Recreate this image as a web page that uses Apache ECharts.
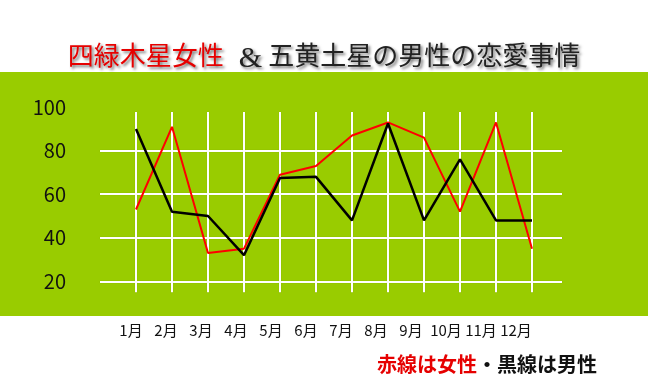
<!DOCTYPE html>
<html><head><meta charset="utf-8">
<script src="https://cdn.jsdelivr.net/npm/echarts@6/dist/echarts.min.js"></script>
<style>html,body{margin:0;padding:0;background:#fff}#c{width:648px;height:388px}</style>
</head><body><div id="c"></div>
<script>
const months = ['1月','2月','3月','4月','5月','6月','7月','8月','9月','10月','11月','12月'];
const yTicks = [20,40,60,80,100];
const women = [53,91,33,35,69,73,87,93,86,52,93,35];
const men = [90,52,50,32,67.5,68,48,92.5,48,76,48,48];

const chart = echarts.init(document.getElementById('c'), null, {renderer:'canvas'});
const shadow = {textShadowColor:'rgba(0,0,0,0.55)', textShadowBlur:3, textShadowOffsetX:2, textShadowOffsetY:2};
const white = {show:true, lineStyle:{color:'#ffffff', width:2, shadowColor:'rgba(0,0,0,0.25)', shadowBlur:1}};
chart.setOption({
  backgroundColor:'#ffffff',
  animation:false,
  graphic:[{type:'rect', z:-100, shape:{x:0,y:72,width:648,height:244}, style:{fill:'#99CC00'}}],
  title:[{
    left:'center', top:31,
    text:'{r|四緑木星女性}{a|&}{b|五黄土星の男性の恋愛事情}',
    textStyle:{fontWeight:'normal', rich:{
      r:Object.assign({color:'#e60000', fontSize:26, fontWeight:'normal', fontFamily:'Noto Sans CJK JP'}, shadow),
      a:Object.assign({color:'#222', fontSize:30, fontWeight:'normal', fontFamily:'Liberation Serif', padding:[8,6,0,15]}, shadow),
      b:Object.assign({color:'#222', fontSize:26, fontWeight:'normal', fontFamily:'Noto Sans CJK JP'}, shadow)
    }}
  },{
    left:372, top:349,
    text:'{r|赤線は女性}{b|・黒線は男性}',
    textStyle:{rich:{
      r:{color:'#e60000', fontSize:20, fontWeight:'bold', fontFamily:'Noto Sans CJK JP'},
      b:{color:'#111', fontSize:20, fontWeight:'bold', fontFamily:'Noto Sans CJK JP'}
    }}
  }],
  grid:[
    {left:100, right:86, top:112, bottom:95.8},
    {left:100, right:86, top:107.1, bottom:63.1},
    {left:96, right:97, top:112, bottom:95.8}
  ],
  xAxis:[
    {gridIndex:0, type:'value', min:0, max:462/36, interval:1,
     axisLine:{show:false}, axisTick:{show:false}, axisLabel:{show:false},
     splitLine:Object.assign({showMinLine:false, showMaxLine:false}, white)},
    {gridIndex:1, type:'value', min:0, max:1, show:false},
    {gridIndex:2, type:'value', min:0, max:13, interval:1,
     axisLine:{show:false}, axisTick:{show:false}, splitLine:{show:false},
     axisLabel:{margin:31, color:'#111', fontSize:15, fontFamily:'Noto Sans CJK JP',
       formatter:function(v){return months[v-1] || '';}}}
  ],
  yAxis:[
    {gridIndex:0, type:'value', min:15, max:97.8, show:false},
    {gridIndex:1, type:'value', min:0, max:100, interval:20,
     axisLine:{show:false}, axisTick:{show:false},
     axisLabel:{margin:34, color:'#111', fontSize:20, fontFamily:'Noto Sans CJK JP', showMinLabel:false,
       formatter:function(v){return yTicks.indexOf(v) >= 0 ? String(v) : '';}},
     splitLine:Object.assign({showMinLine:false, showMaxLine:false}, white)},
    {gridIndex:2, type:'value', min:0, max:1, show:false}
  ],
  series:[
    {type:'line', xAxisIndex:0, yAxisIndex:0, data:women.map((v,i)=>[i+1,v]), symbol:'none', clip:false,
     lineStyle:{color:'#ff0000', width:2}, z:3},
    {type:'line', xAxisIndex:0, yAxisIndex:0, data:men.map((v,i)=>[i+1,v]), symbol:'none', clip:false,
     lineStyle:{color:'#000000', width:2.5}, z:4}
  ]
});
</script></body></html>
